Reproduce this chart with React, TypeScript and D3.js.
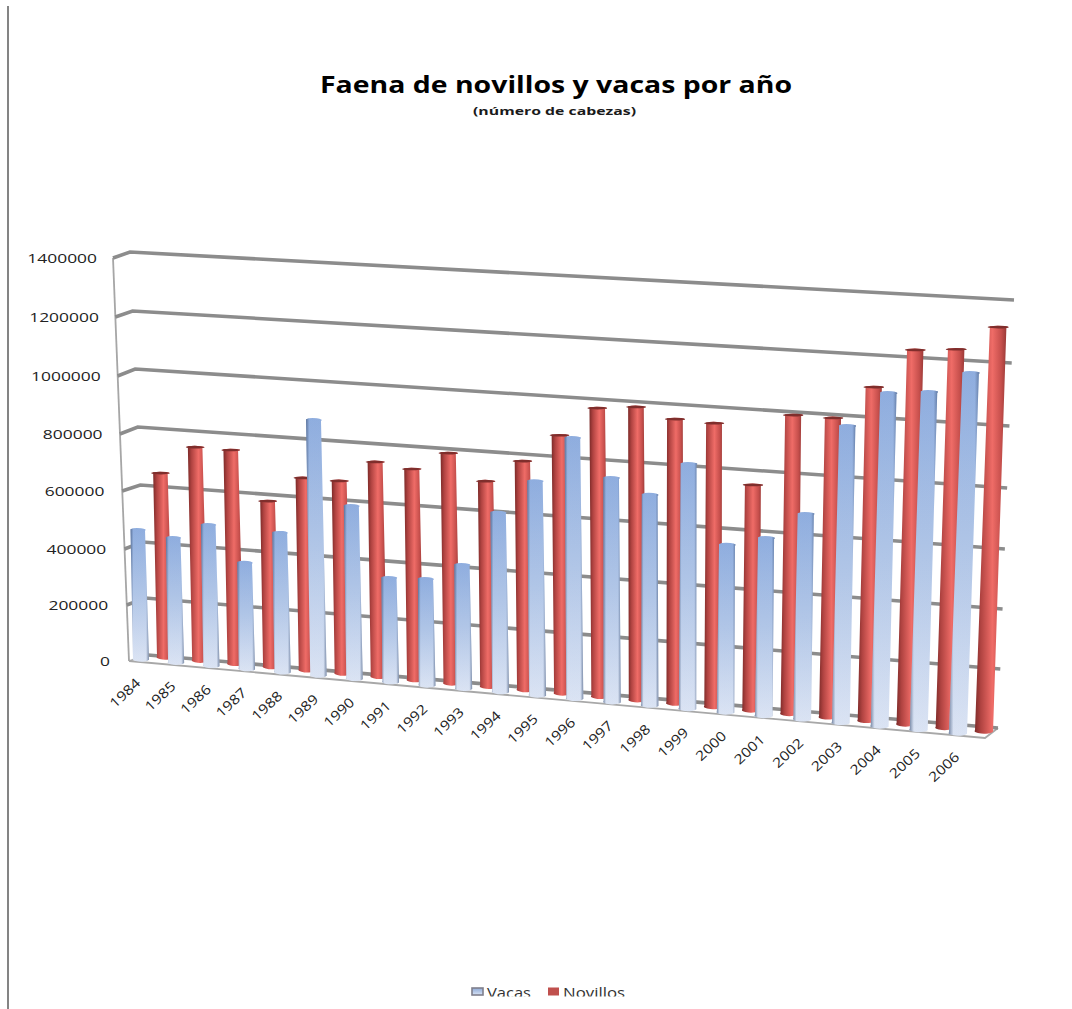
import React from "react";
import * as d3 from "d3";

// Annual slaughter figures, in head of cattle
const years = ["1984","1985","1986","1987","1988","1989","1990","1991","1992","1993","1994","1995","1996","1997","1998","1999","2000","2001","2002","2003","2004","2005","2006"];
const vacas = [448000,430000,485000,364000,477000,873000,588000,353000,359000,417000,603000,719000,873000,748000,701000,813000,554000,586000,675000,974000,1090000,1102000,1172000];
const novillos = [639000,738000,737000,570000,659000,658000,732000,717000,780000,694000,771000,867000,967000,979000,947000,942000,746000,986000,985000,1095000,1225000,1235000,1315000];
const valueTicks = [0,200000,400000,600000,800000,1000000,1200000,1400000];

// Piecewise edges of the receding chart box
const wallLeftY = d3.scaleLinear().domain(valueTicks).range([655,598,542,485,427,369,311,252]);
const wallRightY = d3.scaleLinear().domain(valueTicks).range([728,669,609,549,488,426,363,300]);
const wallLeftX = d3.scaleLinear().domain([0,1400000]).range([148,130]);
const wallRightX = d3.scaleLinear().domain([0,1400000]).range([998,1014]);
const sideY = d3.scaleLinear().domain(valueTicks).range([661,605,549,491,434,376,317,258]);
const sideX = d3.scaleLinear().domain([0,1400000]).range([129,113]);

// Category spacing grows slightly toward the viewer
const indexFrac = d3.scaleLinear().domain([0, years.length - 1]).range([0, 1]);
const depth = (i: number) => {
  const s = indexFrac(i);
  return s / (1.06 - 0.06 * s);
};

// Columns lean outward from the vanishing point
const lean = d3.scaleLinear().domain([0, 0.5, 1]).range([-0.025, -0.012, 0.035]);

// Pixels of bar height for a value, at a given position along the floor
const barHeight = (v: number, f: number) =>
  d3.scaleLinear().domain([0, 1400000]).range([0, 403 + 27 * f])(v);

type SeriesGeom = { x0: number; x1: number; y0: number; y1: number };
const vacasFloor: SeriesGeom = { x0: 141, x1: 958, y0: 659, y1: 733 };
const novillosFloor: SeriesGeom = { x0: 165, x1: 984, y0: 657, y1: 731 };

function barPath(v: number, i: number, g: SeriesGeom, flat: number) {
  const f = depth(i);
  const bx = d3.interpolateNumber(g.x0, g.x1)(f);
  const by = d3.interpolateNumber(g.y0, g.y1)(f);
  const h = barHeight(v, f);
  const tx = bx + h * lean(f);
  const ty = by - h;
  const wb = 16 + 2 * f;
  const wt = 14.5 + 2 * f;
  const slope = 0.8;
  return {
    d: `M${tx - wt / 2},${ty - slope} A${wt / 2},${flat} 0 0 1 ${tx + wt / 2},${ty + slope}` +
       ` L${bx + wb / 2},${by + slope} A${wb / 2},2.6 0 0 1 ${bx - wb / 2},${by - slope} Z`,
    tx, ty, wt, slope,
  };
}

const gridLine = d3.line<[number, number]>();
const GRID = "#8c8c8c";
const FONT = "'Open Sans', 'Noto Sans', sans-serif";

export default function App() {
  const tickLabelRight = d3.scaleLinear().domain([0, 1400000]).range([110, 97]);
  return (
    <svg width={1072} height={1009} viewBox="0 0 1072 1009"
      style={{ position: "absolute", left: 0, top: 0, display: "block", background: "#fff" }}>
      <defs>
        <linearGradient id="redBar" x1="0" x2="1" y1="0" y2="0">
          <stop offset="0" stopColor="#7c2a28" />
          <stop offset="0.18" stopColor="#b04341" />
          <stop offset="0.52" stopColor="#ef6c67" />
          <stop offset="0.78" stopColor="#c64f4c" />
          <stop offset="1" stopColor="#86302e" />
        </linearGradient>
        <linearGradient id="blueBar" x1="0" x2="0" y1="0" y2="1">
          <stop offset="0" stopColor="#92b1e3" />
          <stop offset="0.5" stopColor="#b6cbec" />
          <stop offset="1" stopColor="#e2eaf9" />
        </linearGradient>
        <linearGradient id="blueEdge" x1="0" x2="1" y1="0" y2="0">
          <stop offset="0" stopColor="#3f5478" stopOpacity="0.7" />
          <stop offset="0.16" stopColor="#4f6488" stopOpacity="0.05" />
          <stop offset="0.84" stopColor="#4f6488" stopOpacity="0.05" />
          <stop offset="1" stopColor="#3f5478" stopOpacity="0.65" />
        </linearGradient>
        <linearGradient id="legendBlue" x1="0" x2="0" y1="0" y2="1">
          <stop offset="0" stopColor="#8ea9d6" />
          <stop offset="1" stopColor="#d9e4f6" />
        </linearGradient>
        <clipPath id="legendClip"><rect x={440} y={970} width={220} height={26.5} /></clipPath>
      </defs>

      {/* page edge rule */}
      <line x1={8} x2={8} y1={6} y2={1009} stroke="#848484" strokeWidth={2} />

      <text x={320} y={93} fontFamily={FONT} fontWeight={700} fontSize={23} fill="#000"
        textLength={472} lengthAdjust="spacingAndGlyphs">Faena de novillos y vacas por año</text>
      <text x={473} y={115} fontFamily={FONT} fontWeight={700} fontSize={11} fill="#1a1a1a"
        textLength={163} lengthAdjust="spacingAndGlyphs">(número de cabezas)</text>

      {/* side wall axis and floor */}
      <line x1={sideX(0)} y1={sideY(0)} x2={sideX(1400000)} y2={sideY(1400000)} stroke="#a6a6a6" strokeWidth={1.8} />
      <path d={gridLine([[129, 661], [985, 738], [998, 728]]) ?? ""} fill="none" stroke="#a8a8a8" strokeWidth={1.8} />
      <line x1={129} y1={661} x2={148} y2={655} stroke="#a8a8a8" strokeWidth={1.8} />

      {/* gridlines wrap from the side wall onto the back wall */}
      {valueTicks.map((t) => (
        <path key={t} fill="none" stroke={GRID} strokeWidth={3.6}
          d={gridLine(t === 0
            ? [[wallLeftX(t), wallLeftY(t)], [wallRightX(t), wallRightY(t)]]
            : [[sideX(t), sideY(t)], [wallLeftX(t), wallLeftY(t)], [wallRightX(t), wallRightY(t)]]) ?? ""} />
      ))}

      {/* value axis labels */}
      {valueTicks.map((t) => {
        const label = String(t);
        return (
          <text key={t} x={tickLabelRight(t)} y={sideY(t) + 4.5} textAnchor="end"
            fontFamily={FONT} fontSize={13} fill="#222"
            textLength={label.length * 9.95} lengthAdjust="spacingAndGlyphs">{label}</text>
        );
      })}

      {/* rear series */}
      {novillos.map((v, i) => {
        const b = barPath(v, i, novillosFloor, 1);
        return (
          <g key={years[i]}>
            <path d={b.d} fill="url(#redBar)" />
            <path d={`M${b.tx - b.wt / 2},${b.ty - b.slope} A${b.wt / 2},1 0 0 1 ${b.tx + b.wt / 2},${b.ty + b.slope} A${b.wt / 2},1 0 0 1 ${b.tx - b.wt / 2},${b.ty - b.slope} Z`}
              fill="#7f2e2c" />
          </g>
        );
      })}

      {/* front series */}
      {vacas.map((v, i) => {
        const b = barPath(v, i, vacasFloor, 1.8);
        return (
          <g key={years[i]}>
            <path d={b.d} fill="url(#blueBar)" />
            <path d={b.d} fill="url(#blueEdge)" />
          </g>
        );
      })}

      {/* category labels */}
      {years.map((y, i) => {
        const f = depth(i);
        const cx = d3.interpolateNumber(125, 944)(f);
        const cy = d3.interpolateNumber(693, 767)(f);
        return (
          <text key={y} transform={`translate(${cx},${cy}) rotate(-43)`} textAnchor="middle" dy="0.35em"
            fontFamily={FONT} fontSize={13.5} fill="#222"
            textLength={36} lengthAdjust="spacingAndGlyphs">{y}</text>
        );
      })}

      {/* legend, cut off at the chart's lower edge */}
      <rect x={472} y={988} width={11} height={7} fill="url(#legendBlue)" stroke="#7f7f8c" strokeWidth={1.6} />
      <rect x={548} y={987.5} width={11} height={8} fill="#c0504d" />
      <g clipPath="url(#legendClip)" fontFamily={FONT} fontSize={14.5} fill="#333">
        <text x={487} y={998} textLength={44} lengthAdjust="spacingAndGlyphs">Vacas</text>
        <text x={563} y={998} textLength={62} lengthAdjust="spacingAndGlyphs">Novillos</text>
      </g>
    </svg>
  );
}
